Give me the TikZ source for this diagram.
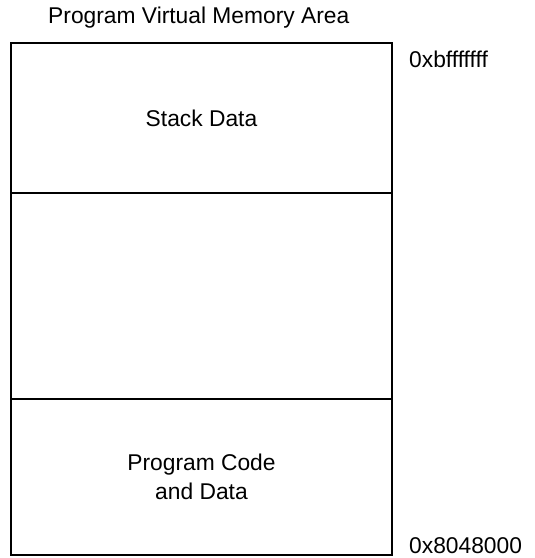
\documentclass[tikz,border=0pt]{standalone}
\usepackage{fontspec}
\setmainfont{Liberation Sans}
\usepackage{tikz}
\usetikzlibrary{positioning}
\tikzset{
    regiao/.style={
        rectangle,
        draw,
        line width=1.6pt,
        align=center,
        inner sep=0pt,
        outer sep=0pt,
        minimum width=381pt
    },
    endereco/.style={anchor=base west, inner sep=0pt}
}

\begin{document}
\begin{tikzpicture}[font=\fontsize{22.8}{29}\selectfont, node distance=0pt]
    \useasboundingbox (0pt,0pt) rectangle (535pt,-558pt);
    % memory areas, top to bottom
    \node[regiao, anchor=north west, minimum height=150pt] (stack) at (11pt,-43pt)
        {Stack Data};
    \node[regiao, below=of stack, minimum height=206pt] (livre) {};
    \node[regiao, below=of livre, minimum height=156pt] (codigo)
        {Program Code\\and Data};

    \node[endereco] (titulo) at ([xshift=37pt, yshift=20pt]stack.north west)
        {Program Virtual Memory Area};
    \node[endereco] (topo) at ([xshift=17pt, yshift=-24pt]stack.north east)
        {0xbfffffff};
    \node[endereco] (base) at ([xshift=17pt, yshift=2pt]codigo.south east)
        {0x8048000};
\end{tikzpicture}
\end{document}
